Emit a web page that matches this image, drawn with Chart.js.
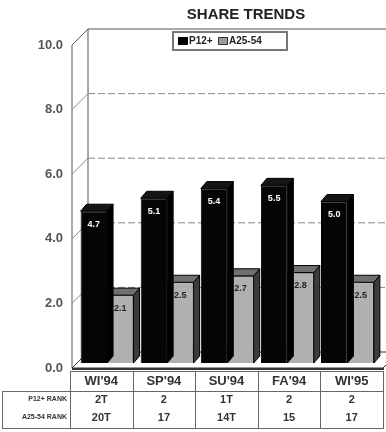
<!DOCTYPE html>
<html>
<head>
<meta charset="utf-8">
<script src="https://cdn.jsdelivr.net/npm/chart.js@4"></script>
<style>
  body { margin: 0; background: #fff; }
  canvas { display: block; }
</style>
</head>
<body>
<canvas id="chart" width="386" height="432"></canvas>
<script>
// Chart data
var categories = ["WI'94", "SP'94", "SU'94", "FA'94", "WI'95"];
var p12Share = [4.7, 5.1, 5.4, 5.5, 5.0];
var a2554Share = [2.1, 2.5, 2.7, 2.8, 2.5];
var p12Rank = ["2T", "2", "1T", "2", "2"];
var a2554Rank = ["20T", "17", "14T", "15", "17"];
var yTicks = [0, 2, 4, 6, 8, 10];

var FONT = "'Liberation Sans', Arial, sans-serif";
var DEPTH = 16;      // depth of the back wall
var BAR_DX = 6, BAR_DY = 7;
var FRONT_X = 72, FRONT_DROP = 5;

// Draw the 3d walls, floor and grid behind the bars
var wallPlugin = {
  id: "walls",
  beforeDatasetsDraw: function(chart) {
    var c = chart.ctx;
    var y = chart.scales.y;
    var top = y.getPixelForValue(10) + FRONT_DROP;
    var bottom = y.getPixelForValue(0) + FRONT_DROP;
    var backX = FRONT_X + DEPTH;
    c.save();
    c.strokeStyle = "#555";
    c.lineWidth = 1;
    // back wall outline
    c.beginPath();
    c.moveTo(backX, bottom - DEPTH);
    c.lineTo(backX, top - DEPTH);
    c.lineTo(386, top - DEPTH);
    c.stroke();
    // left wall
    c.beginPath();
    c.moveTo(FRONT_X, bottom);
    c.lineTo(FRONT_X, top);
    c.lineTo(backX, top - DEPTH);
    c.stroke();
    // grid lines
    yTicks.forEach(function(v) {
      if (v === 0 || v === 10) return;
      var fy = y.getPixelForValue(v) + FRONT_DROP;
      c.strokeStyle = "#888";
      c.setLineDash([]);
      c.beginPath();
      c.moveTo(FRONT_X, fy);
      c.lineTo(backX, fy - DEPTH);
      c.stroke();
      c.setLineDash([7, 3]);
      c.beginPath();
      c.moveTo(backX, fy - DEPTH);
      c.lineTo(386, fy - DEPTH);
      c.stroke();
    });
    c.setLineDash([]);
    // floor
    c.fillStyle = "#fff";
    c.strokeStyle = "#333";
    c.beginPath();
    c.moveTo(FRONT_X, bottom);
    c.lineTo(383, bottom);
    c.lineTo(383 + DEPTH, bottom - DEPTH);
    c.lineTo(backX, bottom - DEPTH);
    c.closePath();
    c.fill();
    c.stroke();
    c.lineWidth = 2;
    c.beginPath();
    c.moveTo(FRONT_X, bottom + 1);
    c.lineTo(384, bottom + 1);
    c.stroke();
    c.restore();
  },
  // side and top faces, per dataset so the grey bars cover the black sides
  afterDatasetDraw: function(chart, args) {
    var c = chart.ctx;
    var side = args.index === 0 ? "#000" : "#3c3c3c";
    var topC = args.index === 0 ? "#151515" : "#707070";
    var meta = chart.getDatasetMeta(args.index);
    c.save();
    c.strokeStyle = "#000";
    c.lineWidth = 1;
    meta.data.forEach(function(bar) {
      var l = bar.x - bar.width / 2, r = bar.x + bar.width / 2;
      var t = bar.y, b = bar.base;
      c.fillStyle = side;
      c.beginPath();
      c.moveTo(r, b);
      c.lineTo(r, t);
      c.lineTo(r + BAR_DX, t - BAR_DY);
      c.lineTo(r + BAR_DX, b - BAR_DY);
      c.closePath();
      c.fill();
      c.stroke();
      c.fillStyle = topC;
      c.beginPath();
      c.moveTo(l, t);
      c.lineTo(l + BAR_DX, t - BAR_DY);
      c.lineTo(r + BAR_DX, t - BAR_DY);
      c.lineTo(r, t);
      c.closePath();
      c.fill();
      c.stroke();
    });
    c.restore();
  },
  afterDatasetsDraw: function(chart) {
    var c = chart.ctx;
    var y = chart.scales.y;
    c.save();
    // value labels
    c.font = "bold 9px " + FONT;
    c.textAlign = "center";
    c.textBaseline = "middle";
    [0, 1].forEach(function(i) {
      var meta = chart.getDatasetMeta(i);
      var vals = chart.data.datasets[i].data;
      meta.data.forEach(function(bar, j) {
        c.fillStyle = i === 0 ? "#fff" : "#222";
        c.fillText(vals[j].toFixed(1), bar.x, bar.y + 13);
      });
    });
    // y tick labels
    c.font = "bold 13px " + FONT;
    c.fillStyle = "#555";
    c.textAlign = "right";
    yTicks.forEach(function(v) {
      c.fillText(v.toFixed(1), 63, y.getPixelForValue(v) + FRONT_DROP);
    });
    // title
    c.fillStyle = "#222";
    c.textAlign = "center";
    c.font = "bold 15px " + FONT;
    c.fillText("SHARE TRENDS", 246, 15);
    // legend
    c.strokeStyle = "#777";
    c.lineWidth = 2;
    c.fillStyle = "#fff";
    c.fillRect(173, 32, 114, 18);
    c.strokeRect(173, 32, 114, 18);
    c.lineWidth = 1;
    c.fillStyle = "#000";
    c.fillRect(178, 37, 10, 8);
    c.fillStyle = "#999";
    c.fillRect(218, 37, 10, 8);
    c.strokeStyle = "#333";
    c.strokeRect(218.5, 37.5, 9, 7);
    c.fillStyle = "#222";
    c.textAlign = "left";
    c.font = "bold 10px " + FONT;
    c.fillText("P12+", 189, 41.5);
    c.fillText("A25-54", 229, 41.5);
    drawTable(c);
    c.restore();
  }
};

// Data table under the chart
function drawTable(c) {
  var left = 70, colW = 62.6, right = left + colW * categories.length;
  c.strokeStyle = "#666";
  c.lineWidth = 1;
  c.beginPath();
  c.moveTo(left, 371.5); c.lineTo(right, 371.5);
  c.moveTo(2, 391.5); c.lineTo(right, 391.5);
  c.moveTo(2, 428.5); c.lineTo(right, 428.5);
  c.moveTo(2.5, 391); c.lineTo(2.5, 429);
  for (var i = 0; i <= categories.length; i++) {
    var x = Math.round(left + i * colW) + 0.5;
    c.moveTo(x, 371); c.lineTo(x, 429);
  }
  c.stroke();
  c.fillStyle = "#333";
  c.textAlign = "center";
  c.textBaseline = "middle";
  categories.forEach(function(cat, i) {
    var cx = left + colW * (i + 0.5);
    c.font = "bold 13px " + FONT;
    c.fillText(cat, cx, 381.5);
    c.font = "bold 11px " + FONT;
    c.fillText(p12Rank[i], cx, 400);
    c.fillText(a2554Rank[i], cx, 418);
  });
  c.font = "bold 7px " + FONT;
  c.textAlign = "right";
  c.fillText("P12+ RANK", 67, 399);
  c.fillText("A25-54 RANK", 67, 417);
}

var ctx = document.getElementById("chart").getContext("2d");
var chart = new Chart(ctx, {
  type: "bar",
  data: {
    labels: categories,
    datasets: [
      {
        label: "P12+",
        data: p12Share,
        backgroundColor: "#050505",
        borderColor: "#000",
        borderWidth: 1
      },
      {
        label: "A25-54",
        data: a2554Share,
        backgroundColor: "#b0b0b0",
        borderColor: "#000",
        borderWidth: 1
      }
    ]
  },
  options: {
    responsive: false,
    animation: false,
    layout: { padding: { left: 77, right: 8.5, top: 40, bottom: 69 } },
    datasets: {
      bar: { categoryPercentage: 0.88, barPercentage: 1 }
    },
    scales: {
      x: { display: false },
      y: { display: false, min: 0, max: 10 }
    },
    plugins: {
      legend: { display: false },
      tooltip: { enabled: false }
    }
  },
  plugins: [wallPlugin]
});
</script>
</body>
</html>
